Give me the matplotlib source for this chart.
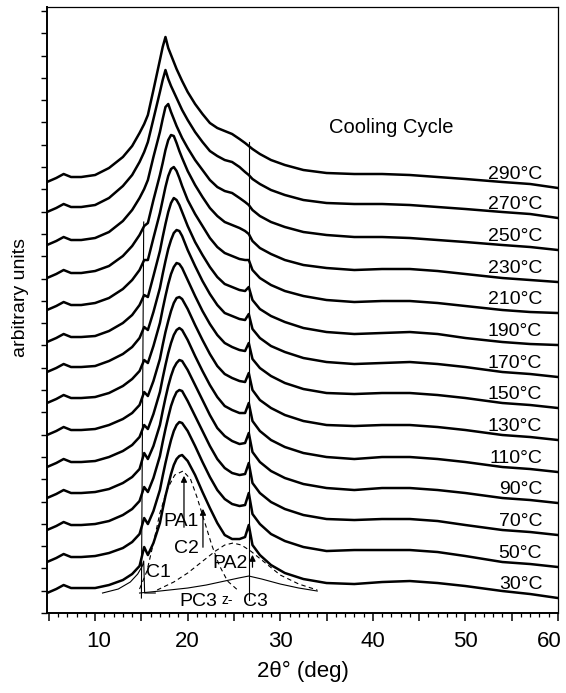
import matplotlib
matplotlib.use("Agg")
import matplotlib.pyplot as plt
import matplotlib.transforms as mtrans
from matplotlib.ticker import MultipleLocator

plt.rcParams['font.family'] = ['Liberation Sans', 'DejaVu Sans']

# ---------------- data ----------------
two_theta = [4.8, 5.8, 6.6, 7.4, 8.5, 10, 11.5, 13, 14, 14.8,
             15.3, 15.7, 16.3, 17.0, 17.3, 17.6, 17.9, 18.2, 18.5, 18.8,
             19.1, 19.4, 20.0, 20.8, 21.6, 22.4, 23.2, 24.0, 24.8, 25.6,
             26.2, 26.6, 27.0, 27.8, 29.0, 30.5, 32.5, 35, 38, 41,
             44, 47, 50, 54, 57, 60]

temps = [290, 270, 250, 230, 210, 190, 170, 150, 130, 110, 90, 70, 50, 30]
offsets = [431, 401, 368, 335, 303, 271, 241, 210, 178, 146, 115, 83, 51, 20]

i_290 = [0,4,8,5,5, 7,14,25,36,49, 58,67,92,122,135, 145,134,127,120,113, 107,101,90,78,68, 59,54,51,48,43, 39,36,33,28,22, 17,12,9,8,8, 7,5,3,0,-2, -6]
i_270 = [0,4,8,5,5, 7,14,26,37,50, 60,70,93,120,132, 142,133,126,120,114, 108,102,92,80,70, 61,56,52,50,45, 40,37,33,28,22, 17,12,9,8,8, 7,5,3,0,-2, -6]
i_250 = [0,4,8,5,5, 7,13,24,35,47, 56,65,88,113,126, 138,141,133,126,119, 113,107,97,85,75, 65,58,54,52,47, 43,40,35,29,23, 18,13,10,8,8, 7,5,3,0,-2, -5]
i_230 = [0,4,8,5,5, 7,12,22,32,43, 52,55,78,103,115, 128,138,143,142,135, 127,120,107,93,81, 70,62,56,53,50, 47,44,37,30,24, 18,13,10,8,9, 9,7,4,0,-2, -4]
i_210 = [0,4,8,5,5, 7,12,21,30,40, 50,50,72,97,110, 123,134,141,143,139, 132,124,110,96,84, 72,63,57,54,51, 50,50,40,32,25, 19,14,10,8,9, 9,7,4,0,-2, -3]
i_190 = [0,4,8,5,5, 6,11,19,27,37, 47,45,66,91,105, 118,130,139,144,142, 137,130,116,100,87, 75,65,58,55,52, 51,55,42,33,26, 20,14,10,8,9, 10,8,4,0,-2, -3]
i_170 = [0,4,8,5,5, 6,11,18,25,34, 45,42,60,84,98, 111,123,132,139,142, 141,136,122,106,91, 78,67,59,56,53, 52,58,43,34,26, 20,14,10,8,9, 10,8,5,0,-2, -5]
i_150 = [0,4,8,5,5, 6,10,17,24,32, 43,40,57,80,94, 107,119,129,136,140, 139,135,123,107,92, 79,68,60,56,53, 52,60,44,35,27, 20,14,10,9,10, 10,8,5,0,-2, -5]
i_130 = [0,4,8,5,5, 6,10,16,22,30, 43,39,54,76,90, 103,114,124,132,137, 138,136,126,110,95, 81,69,61,57,54, 53,62,45,35,27, 20,14,10,9,10, 10,8,5,0,-2, -5]
i_110 = [0,4,8,5,5, 6,10,16,22,30, 42,38,53,75,89, 102,114,124,132,137, 139,137,127,111,96, 82,70,61,57,54, 54,64,46,36,27, 20,14,10,8,10, 10,8,5,0,-2, -5]
i_90  = [0,4,8,5,5, 6,9,15,21,29, 45,39,52,73,87, 100,112,122,130,135, 138,137,128,113,98, 83,70,62,57,54, 55,65,46,36,27, 20,14,10,8,10, 10,8,5,0,-2, -5]
i_70  = [0,4,8,5,5, 6,9,15,21,29, 43,38,52,74,88, 101,113,124,132,138, 140,139,129,114,99, 84,71,62,57,55, 56,67,47,37,28, 21,15,11,10,11, 11,9,5,0,-2, -5]
i_50  = [0,4,8,5,5, 6,9,14,20,28, 44,38,51,72,86, 99,111,122,131,137, 140,139,131,116,100, 85,72,63,58,56, 57,69,48,38,28, 21,15,11,12,12, 12,10,6,0,-2, -5]
i_30  = [0,4,8,5,5, 5,8,13,19,27, 46,38,50,70,84, 97,108,119,128,134, 137,138,132,118,101, 85,70,58,54,54, 56,68,48,38,28, 20,14,10,9,11, 12,10,7,2,-1, -5]

intensities = [i_290, i_270, i_250, i_230, i_210, i_190, i_170,
               i_150, i_130, i_110, i_90, i_70, i_50, i_30]

# deconvolution components of the 30 C pattern
c1_x = [10.8, 12.5, 13.8, 14.6, 15.1, 15.25, 15.35, 16.5]
c1_h = [0, 4, 11, 19, 27, 32, 0, 0]
pa1_x = [14.8, 15.6, 16.3, 17.0, 17.8, 18.6, 19.5, 20.3, 21.0, 21.8, 22.6, 23.4, 24.3, 25.4]
pa1_h = [4, 22, 50, 80, 104, 118, 122, 114, 96, 72, 48, 28, 12, 3]
pa2_x = [16.7, 18.5, 20.0, 21.5, 23.0, 24.0, 24.9, 25.8, 26.8, 28.0, 30.0, 32.0, 34.0]
pa2_h = [3, 11, 20, 31, 42, 48, 50, 48, 42, 33, 18, 9, 3]
pc3_x = [14.8, 17.0, 20.0, 22.0, 24.0, 25.5, 26.6, 28.0, 30.0, 32.0, 34.0]
pc3_h = [0, 2, 5, 8, 12, 15, 17, 14, 9, 5, 2]

xtick_vals = [10, 20, 30, 40, 50, 60]

# ---------------- figure ----------------
fig = plt.figure(figsize=(5.66, 6.93), dpi=100)
ax = fig.add_axes([0.0830, 0.1154, 0.9028, 0.8745])

for t, off, h in zip(temps, offsets, intensities):
    y = [off + v for v in h]
    ax.plot(two_theta, y, color='black', lw=1.8, solid_joinstyle='round')
    ax.text(58.3, off + h[-1] + 9, f"{t}\u00b0C", ha='right', va='baseline',
            fontsize=14)

# guide lines through the crystalline peaks
ax.plot([26.6, 26.6], [13, 471], color='black', lw=0.8)
ax.plot([15.25, 15.0], [391, 15], color='black', lw=0.8)

# components (bottom pattern)
base = offsets[-1]
ax.plot(c1_x, [base + v for v in c1_h], color='black', lw=0.8)
ax.plot(pa1_x, [base + v for v in pa1_h], color='black', lw=0.8, dashes=(4, 3))
ax.plot(pa2_x, [base + v for v in pa2_h], color='black', lw=0.8, dashes=(4, 3))
ax.plot(pc3_x, [base + v for v in pc3_h], color='black', lw=0.8)

arrow_kw = dict(arrowstyle='-|>', color='black', lw=0.9, mutation_scale=9)
ax.annotate('', xy=(19.6, 140), xytext=(19.6, 83), arrowprops=arrow_kw)
ax.annotate('', xy=(21.65, 107), xytext=(21.65, 63), arrowprops=arrow_kw)
ax.annotate('', xy=(27.0, 61), xytext=(27.0, 43), arrowprops=arrow_kw)

lab_fs = 14
ax.text(19.3, 92, 'PA1', ha='center', va='center', fontsize=lab_fs)
ax.text(19.9, 65, 'C2', ha='center', va='center', fontsize=lab_fs)
ax.text(16.8, 41, 'C1', ha='center', va='center', fontsize=lab_fs)
ax.text(24.6, 50, 'PA2', ha='center', va='center', fontsize=lab_fs)
ax.text(21.1, 12, 'PC3', ha='center', va='center', fontsize=lab_fs)
ax.text(24.3, 13, 'z-', ha='center', va='center', fontsize=10)
ax.text(27.3, 12, 'C3', ha='center', va='center', fontsize=lab_fs)

ax.text(35.3, 486, 'Cooling Cycle', ha='left', va='center', fontsize=14.5)

# axes styling
ax.set_xlim(4.8, 60)
ax.set_ylim(0, 606)
ax.xaxis.set_major_locator(MultipleLocator(5))
ax.xaxis.set_minor_locator(MultipleLocator(1))
ax.xaxis.set_major_formatter(plt.FuncFormatter(
    lambda v, p: f"{int(round(v))}" if int(round(v)) in xtick_vals else ""))
ax.yaxis.set_major_locator(MultipleLocator(22.3))
ax.yaxis.set_major_formatter(plt.NullFormatter())
ax.tick_params(axis='x', which='major', direction='out', length=6, width=1.1,
               labelsize=16, pad=7, top=False)
ax.tick_params(axis='x', which='minor', direction='out', length=3, width=0.9, top=False)
ax.tick_params(axis='y', which='major', direction='out', length=4, width=1.0,
               right=False)
for s in ['left', 'bottom']:
    ax.spines[s].set_linewidth(1.4)
for s in ['top', 'right']:
    ax.spines[s].set_linewidth(0.9)

ax.set_xlabel('2\u03b8\u00b0 (deg)', fontsize=16, labelpad=6)
ax.text(-0.052, 0.52, 'arbitrary units', transform=ax.transAxes, rotation=90,
        ha='center', va='center', fontsize=14)

# nudge the outer tick labels, as in the reference
fig.canvas.draw()
for lab in ax.get_xticklabels():
    if lab.get_text() == '60':
        lab.set_transform(lab.get_transform() +
                          mtrans.ScaledTranslation(-9 / 100, 0, fig.dpi_scale_trans))
    elif lab.get_text() == '10':
        lab.set_transform(lab.get_transform() +
                          mtrans.ScaledTranslation(4 / 100, 0, fig.dpi_scale_trans))

fig.savefig('out.png', dpi=100, facecolor='white')
